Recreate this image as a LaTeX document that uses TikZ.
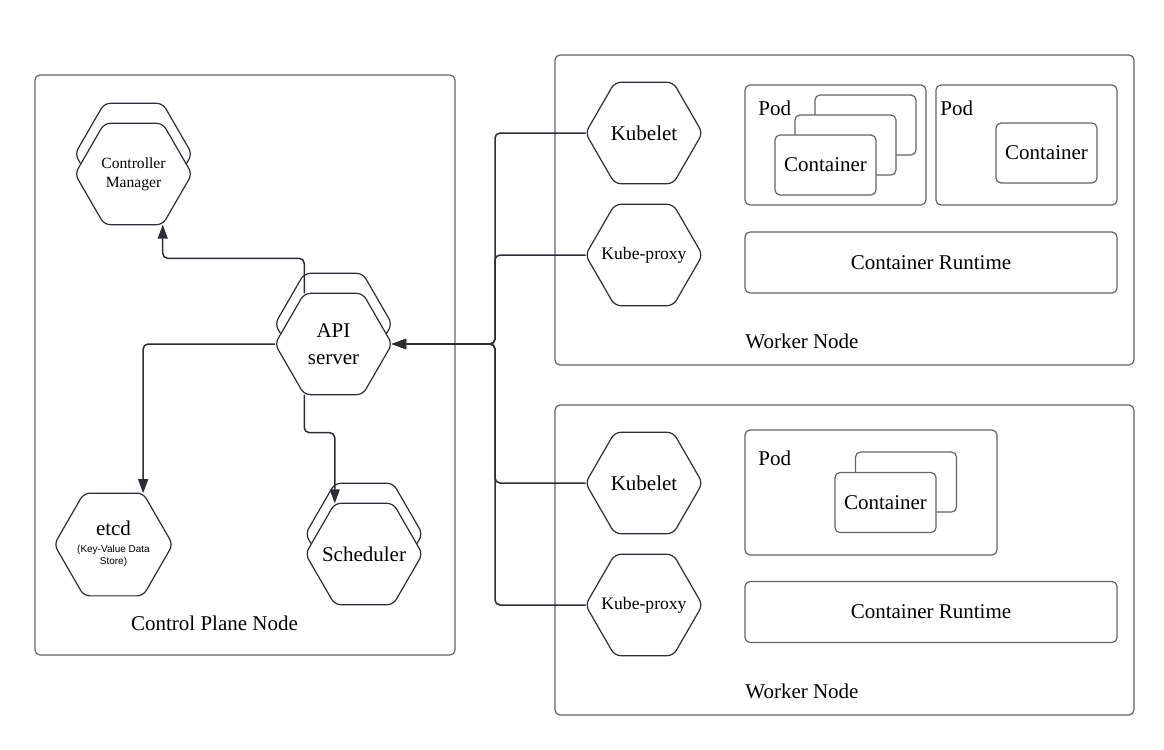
\documentclass[tikz,border=0pt]{standalone}
\usepackage{fontspec}
\setmainfont{Liberation Serif}
\newfontfamily\sansfont{Liberation Sans}
\usetikzlibrary{shapes.geometric, arrows.meta}

\definecolor{linegray}{RGB}{42,46,54}
\definecolor{boxgray}{RGB}{100,100,104}
\newcommand{\kvfont}{\sansfont\fontsize{5}{6}\selectfont}
\newcommand{\hextxt}[1]{\makebox[30pt]{#1}}

\begin{document}
\begin{tikzpicture}[x=0.5pt, y=-0.5pt, >={Triangle[length=7pt,width=5pt]},
    hexa/.style={draw=linegray, fill=white, line width=0.6pt, regular polygon,
        regular polygon sides=6, minimum size=58.5pt, inner sep=0pt, outer sep=0pt,
        rounded corners=3pt, align=center, font=\fontsize{10.5}{13.5}\selectfont},
    panel/.style={draw=boxgray, line width=0.6pt, rounded corners=2.5pt},
    cont/.style={draw=boxgray, fill=white, line width=0.6pt, rounded corners=2.5pt,
        minimum width=50.5pt, minimum height=30pt, inner sep=0pt,
        font=\fontsize{10.5}{12}\selectfont},
    boxtext/.style={font=\fontsize{10.5}{12}\selectfont, inner sep=0pt},
    link/.style={draw=linegray, line width=0.75pt, rounded corners=2.5pt, ->}]

    \useasboundingbox (0,0) rectangle (1164,750);

    % Frames
    \draw[panel] (35,75) rectangle (455,655);
    \draw[panel] (555,55) rectangle (1134,365);
    \draw[panel] (555,405) rectangle (1134,715);
    \node[boxtext] (cplabel) at (214.5,623) {Control Plane Node};
    \node[boxtext, anchor=west] (wlabel1) at (745,341) {Worker Node};
    \node[boxtext, anchor=west] (wlabel2) at (745,691) {Worker Node};

    % Pods
    \draw[panel] (745,85) rectangle (926,205);
    \draw[panel] (936,85) rectangle (1117,205);
    \draw[panel] (745,430) rectangle (997,555);
    \node[boxtext, anchor=west] (pod1) at (758,108) {Pod};
    \node[boxtext, anchor=west] (pod2) at (940,108) {Pod};
    \node[boxtext, anchor=west] (pod3) at (758,458) {Pod};

    % Containers
    \node[cont] (ctr1c) at (865.5,125) {};
    \node[cont] (ctr1b) at (845.5,145) {};
    \node[cont] (ctr1a) at (825.5,165) {Container};
    \node[cont] (ctr2) at (1046.5,153) {Container};
    \node[cont] (ctr3b) at (906,482) {};
    \node[cont] (ctr3a) at (885.5,502.5) {Container};

    % Runtimes
    \node[cont, minimum width=186pt, minimum height=30.5pt] (rt1) at (931,262.5) {Container Runtime};
    \node[cont, minimum width=186pt, minimum height=30.5pt] (rt2) at (931,612) {Container Runtime};

    % Control plane parts
    \node[hexa] (cmback) at (133.5,154) {};
    \node[hexa, font=\fontsize{7.8}{9.5}\selectfont] (cm) at (133.5,174) {Controller\\Manager};
    \node[hexa] (apiback) at (333.5,324) {};
    \node[hexa] (api) at (333.5,344) {API\\server};
    \node[hexa, font=\fontsize{10.5}{12}\selectfont] (etcd) at (113.5,544.5) {etcd\\{\kvfont\begin{tabular}{@{}c@{}}(Key-Value Data\\Store)\end{tabular}}};
    \node[hexa] (schedback) at (364,534) {};
    \node[hexa] (sched) at (364,554) {\hextxt{Scheduler}};

    % Worker parts
    \node[hexa] (kubelet1) at (644,133) {Kubelet};
    \node[hexa, font=\fontsize{8.8}{10}\selectfont] (proxy1) at (644,255) {\hextxt{Kube-proxy}};
    \node[hexa] (kubelet2) at (644,483) {Kubelet};
    \node[hexa, font=\fontsize{8.8}{10}\selectfont] (proxy2) at (644,605) {\hextxt{Kube-proxy}};

    % Connectors
    \coordinate (bus) at (495,344);
    \foreach \n in {kubelet1,proxy1,kubelet2,proxy2}
        \draw[link] (\n.west) -| (bus) -- (api.east);
    \draw[link] (api.120) -- ++(0,-35) -| (cm.300);
    \draw[link] (api.west) -| (etcd.60);
    \draw[link] (api.240) -- ++(0,38) -| (sched.120);
\end{tikzpicture}
\end{document}
